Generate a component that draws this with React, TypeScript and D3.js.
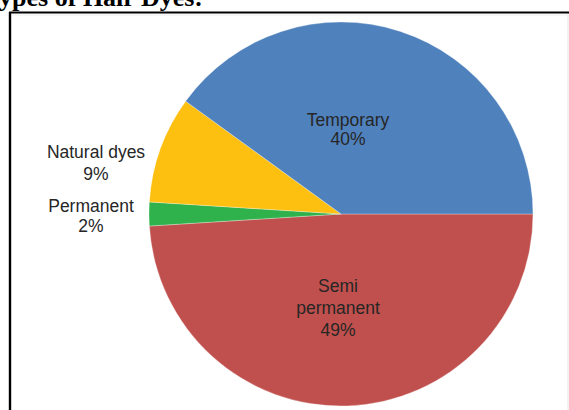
import React from "react";
import * as d3 from "d3";

const categories = ["Semi permanent", "Permanent", "Natural dyes", "Temporary"];
const values = [49, 2, 9, 40];
const labelLines = [["Semi", "permanent", "49%"], ["Permanent", "2%"], ["Natural dyes", "9%"], ["Temporary", "40%"]];
const colors = ["#c0504d", "#2fb24c", "#fdbf10", "#4f81bd"];

// layout: label anchor offsets from pie center (first baseline) and line gap
const labelLayout = [
  { dx: -3, dy: 78, gap: 22 },
  { dx: -250, dy: -2, gap: 20 },
  { dx: -245, dy: -56, gap: 22 },
  { dx: 7, dy: -88, gap: 19 },
];

export default function App() {
  const W = 569, H = 410;
  const cx = 341, cy = 214, r = 192;
  const pie = d3.pie<number>().sort(null).startAngle(Math.PI / 2).endAngle(Math.PI / 2 + 2 * Math.PI);
  const arcs = pie(values);
  const arc = d3.arc<d3.PieArcDatum<number>>().innerRadius(0).outerRadius(r);

  return (
    <svg width={W} height={H} style={{ position: "absolute", left: 0, top: 0, background: "#fff" }}>
      <text x={203} y={5.5} textAnchor="end" fontFamily="Liberation Serif, Times New Roman, serif" fontWeight="bold" fontSize={26} fill="#000">
        Types of Hair Dyes:
      </text>
      <line x1={568} y1={12} x2={568} y2={H} stroke="#e4e4e4" strokeWidth={1} />
      <line x1={12} y1={15} x2={567} y2={15} stroke="#f0f0f0" strokeWidth={1} />
      <line x1={9} y1={12.5} x2={W} y2={12.5} stroke="#000" strokeWidth={2.2} />
      <line x1={10} y1={12} x2={10} y2={H} stroke="#000" strokeWidth={2.4} />
      <g transform={`translate(${cx},${cy})`}>
        {arcs.map((a, i) => (
          <path key={categories[i]} d={arc(a) || ""} fill={colors[i]} stroke="#fff" strokeWidth={0.3} />
        ))}
        {labelLines.map((lines, i) => (
          <text key={"l" + i} fontFamily="Liberation Sans, Arial, sans-serif" fontSize={17.5} fill="#262626" textAnchor="middle">
            {lines.map((t, j) => (
              <tspan key={j} x={labelLayout[i].dx} y={labelLayout[i].dy + j * labelLayout[i].gap}>{t}</tspan>
            ))}
          </text>
        ))}
      </g>
    </svg>
  );
}
